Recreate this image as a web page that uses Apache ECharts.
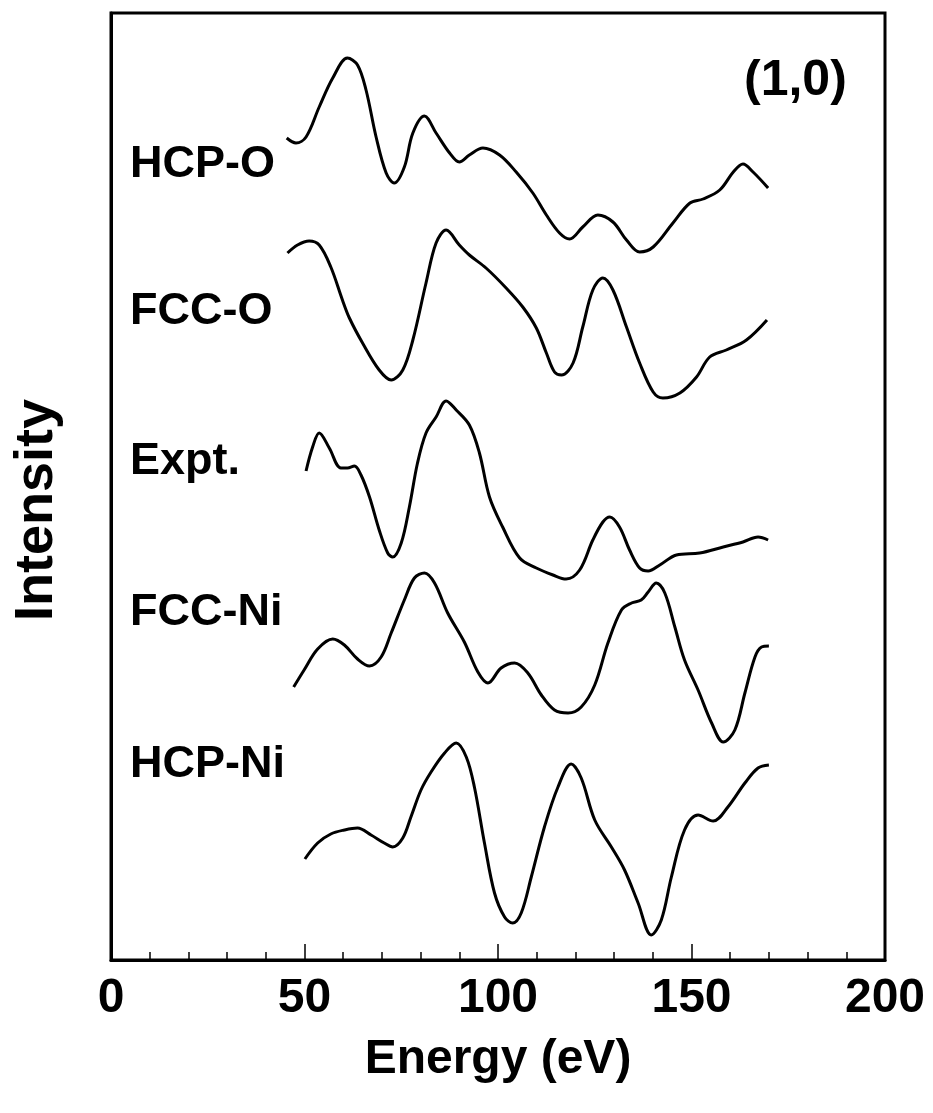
<!DOCTYPE html>
<html>
<head>
<meta charset="utf-8">
<script src="https://cdn.jsdelivr.net/npm/echarts@6/dist/echarts.min.js"></script>
<style>
html,body{margin:0;padding:0;background:#fff;}
#chart{width:933px;height:1113px;}
</style>
</head>
<body>
<div id="chart"></div>
<script>
// Energy (eV) vs offset intensity (arbitrary units, curves stacked vertically)
const energyTickLabels = [0, 50, 100, 150, 200];
const curveNames = ['HCP-O', 'FCC-O', 'Expt.', 'FCC-Ni', 'HCP-Ni'];
const panelLabel = '(1,0)';
const xTitle = 'Energy (eV)';
const yTitle = 'Intensity';

const hcpO = [[45.4,822],[47.8,817],[50.4,823],[53.8,853],[57.3,882],[61.1,902],[63.7,895],[65.9,870],[68.5,823],[71.1,787],[73.2,777],[75.8,793],[78.0,827],[81.0,844],[84.0,827],[87.5,807],[90.0,798],[92.6,805],[96.1,812],[100.4,805],[104.7,788],[109.0,767],[112.5,745],[115.9,727],[118.5,721],[121.9,733],[125.8,745],[129.7,738],[133.2,720],[136.6,708],[140.1,713],[145.2,737],[149.6,757],[153.0,761],[157.3,770],[160.8,788],[163.3,796],[165.9,788],[169.8,772]];

const fccO = [[45.6,707],[48.2,715],[51.2,719],[53.8,715],[56.8,693],[59.8,660],[61.6,642],[65.0,617],[69.3,590],[72.4,580],[75.4,590],[78.0,620],[81.4,677],[84.0,717],[86.6,730],[90.0,715],[92.6,705],[96.9,692],[102.1,672],[106.4,653],[109.9,632],[112.5,607],[114.6,588],[116.4,585],[119.4,597],[121.9,633],[124.5,670],[127.1,682],[129.7,670],[133.2,633],[136.6,597],[140.1,568],[142.6,562],[147.0,567],[151.3,583],[154.7,603],[159.0,610],[164.2,620],[169.5,640]];

const expt = [[50.4,489],[52.1,513],[53.8,527],[56.4,512],[59.4,492],[61.1,492],[62.9,494],[64.6,485],[66.8,463],[69.3,430],[71.5,407],[72.8,403],[75.0,417],[77.1,453],[79.2,497],[81.4,527],[84.0,543],[86.6,559],[89.2,550],[92.6,535],[95.2,507],[97.8,463],[101.2,433],[105.6,402],[109.9,392],[114.2,385],[117.6,381],[121.1,390],[124.5,420],[127.1,438],[128.9,443],[131.4,433],[134.0,410],[136.6,392],[138.8,389],[141.8,395],[146.1,405],[152.1,407],[158.2,413],[163.3,418],[167.2,423],[169.8,420]];

const fccNi = [[47.2,273],[49.9,290],[53.4,311],[57.3,321],[60.3,315],[63.7,301],[66.8,294],[69.8,303],[72.4,327],[75.8,360],[78.4,382],[81.0,387],[83.6,377],[87.0,347],[91.3,318],[94.8,288],[97.4,277],[100.8,292],[104.3,297],[107.7,287],[111.2,265],[114.6,250],[118.1,247],[121.5,253],[125.0,275],[128.4,317],[131.9,350],[134.5,357],[137.0,360],[138.8,368],[140.9,377],[143.1,367],[145.7,333],[148.2,300],[151.7,270],[155.2,237],[158.2,218],[161.2,230],[163.8,267],[166.4,303],[168.1,313],[170.0,314]];

const hcpNi = [[50.1,101],[53.4,117],[56.8,126],[60.3,130],[63.7,132],[67.2,125],[70.6,117],[72.8,113],[75.4,122],[77.5,143],[80.1,170],[82.7,188],[86.2,207],[89.2,217],[91.8,203],[93.9,173],[96.5,117],[99.1,67],[101.7,43],[103.8,37],[106.0,47],[108.6,83],[112.0,133],[115.5,173],[118.9,196],[121.5,182],[125.0,140],[129.3,113],[132.7,90],[136.2,57],[139.6,25],[142.2,40],[144.8,83],[148.2,130],[151.7,145],[155.6,139],[159.4,153],[163.8,177],[167.2,192],[170.0,195]];

const curves = [hcpO, fccO, expt, fccNi, hcpNi];

const FONT = '"Liberation Sans", Arial, Helvetica, sans-serif';
const chart = echarts.init(document.getElementById('chart'), null, {renderer: 'canvas'});

const grid = {left: 111, right: 48, top: 13, bottom: 153, show: true, borderColor: '#000', borderWidth: 3, backgroundColor: 'transparent'};

const labelY = [165, 312, 462, 613, 765];

const option = {
  backgroundColor: '#fff',
  animation: false,
  grid: grid,
  xAxis: [
    {
      type: 'value', min: 0, max: 200, interval: 10,
      position: 'bottom',
      name: xTitle, nameLocation: 'middle', nameGap: 76,
      nameTextStyle: {fontFamily: FONT, fontWeight: 'bold', fontSize: 48, color: '#000'},
      axisLine: {show: true, lineStyle: {color: '#000', width: 3}},
      axisTick: {show: true, inside: true, length: 8, lineStyle: {color: '#000', width: 1.5}},
      axisLabel: {show: false},
      splitLine: {show: false}
    },
    {
      type: 'value', min: 0, max: 200, interval: 50,
      position: 'bottom',
      axisLine: {show: false},
      axisTick: {show: true, inside: true, length: 16, lineStyle: {color: '#000', width: 1.5}},
      axisLabel: {
        show: true, margin: 15, fontFamily: FONT, fontWeight: 'bold', fontSize: 48, color: '#000',
        formatter: function (v) { return energyTickLabels.indexOf(v) >= 0 ? String(v) : ''; }
      },
      splitLine: {show: false}
    }
  ],
  yAxis: {
    type: 'value', min: 0, max: 947,
    axisLine: {show: true, lineStyle: {color: '#000', width: 3}},
    axisTick: {show: false},
    axisLabel: {show: false},
    splitLine: {show: false}
  },
  series: curves.map(function (d, i) {
    return {
      name: curveNames[i],
      type: 'line',
      xAxisIndex: 0,
      data: d,
      smooth: 0.35,
      showSymbol: false,
      symbol: 'none',
      lineStyle: {color: '#000', width: 3},
      z: 3
    };
  }),
  graphic: curveNames.map(function (n, i) {
    return {
      type: 'text', left: 130, top: labelY[i] - 23,
      style: {text: n, fontFamily: FONT, fontWeight: 'bold', fontSize: 45, fill: '#000'}
    };
  }).concat([
    {
      type: 'text', left: 744, top: 56,
      style: {text: panelLabel, fontFamily: FONT, fontWeight: 'bold', fontSize: 50, fill: '#000'}
    },
    {
      type: 'text', x: 37, y: 510, rotation: Math.PI / 2,
      style: {text: yTitle, fontFamily: FONT, fontWeight: 'bold', fontSize: 54, fill: '#000',
              align: 'center', verticalAlign: 'middle'}
    }
  ])
};
chart.setOption(option);
</script>
</body>
</html>
